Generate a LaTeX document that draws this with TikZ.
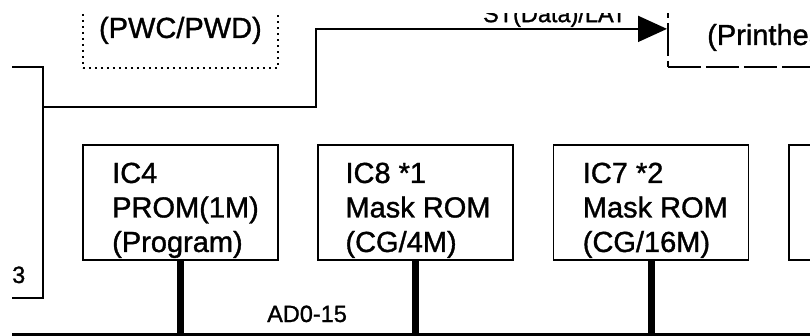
\documentclass[tikz,border=0pt]{standalone}
\usepackage{fontspec}
\setmainfont{Liberation Sans}[RawFeature={embolden=1.2}]
\usepackage{tikz}
\usetikzlibrary{arrows.meta, positioning, calc}
\tikzset{
  chip/.style={rectangle, draw, line width=1.8pt, minimum width=195pt,
    minimum height=115pt, anchor=north west, inner sep=0pt},
  chiptext/.style={anchor=north west, align=left, inner sep=0pt,
    font=\fontsize{29}{34.5}\selectfont},
  bigtext/.style={font=\fontsize{29}{33.5}\selectfont},
  lbl/.style={inner sep=0pt, font=\fontsize{23.5}{27}\selectfont},
  wire/.style={line width=1.8pt},
  busline/.style={line width=7pt},
  sig/.style={-{Triangle[length=29pt,width=26pt]}, line width=1.8pt}
}

\begin{document}
\begin{tikzpicture}[x=1pt, y=-1pt]
  \useasboundingbox (0,0) rectangle (810,336);
  \clip (0,14) rectangle (810,336);
  % upper blocks
  \node[draw, dash pattern=on 2pt off 4pt, line width=1.8pt, minimum width=195pt,
    minimum height=75pt, anchor=north west, bigtext] (pwc) at (82,-8) {(PWC/PWD)};
  \node[draw, dash pattern=on 33pt off 5pt, line width=1.8pt, minimum width=250pt,
    minimum height=76pt, anchor=north west] (ph) at (667,-10) {};
  \node[bigtext, anchor=base west, inner sep=0pt] (phlbl) at (707,45) {(Printhead)};

  % left block
  \coordinate (blkT) at (12,67);
  \coordinate (blkB) at (12,298);
  \draw[wire] (blkT) -| (43,298) -- (blkB);
  \node[lbl, anchor=base west] (blk) at (12,283) {3};

  % memories
  \node[chip] (ic4) at (82,144) {};
  \node[chip, right=38.5pt of ic4] (ic8) {};
  \node[chip, right=38.5pt of ic8] (ic7) {};
  \node[chip, right=38.5pt of ic7] (chipR) {};
  \node[chiptext] (ic4t) at ($(ic4.north west)+(30,18.5)$) {IC4\\PROM(1M)\\(Program)};
  \node[chiptext] (ic8t) at ($(ic8.north west)+(28,18.5)$) {IC8 *1\\Mask ROM\\(CG/4M)};
  \node[chiptext] (ic7t) at ($(ic7.north west)+(30,18.5)$) {IC7 *2\\Mask ROM\\(CG/16M)};

  % bus
  \coordinate (busW) at (12,334);
  \coordinate (busE) at (810,334);
  \draw[line width=3pt] (busW) -- (busE);
  \foreach \c in {ic4, ic8, ic7}
    \draw[busline] (\c.south) -- (\c.south |- busW);
  \node[lbl, anchor=base west] (bus) at (267,322) {AD0-15};

  % data/latch signal
  \coordinate (tap) at (43,107);
  \draw[sig] (tap) -- (316,107) |- (ph.west)
    node[lbl, above, pos=0.84, inner sep=1pt] (stlbl) {ST(Data)/LAT};
\end{tikzpicture}
\end{document}
